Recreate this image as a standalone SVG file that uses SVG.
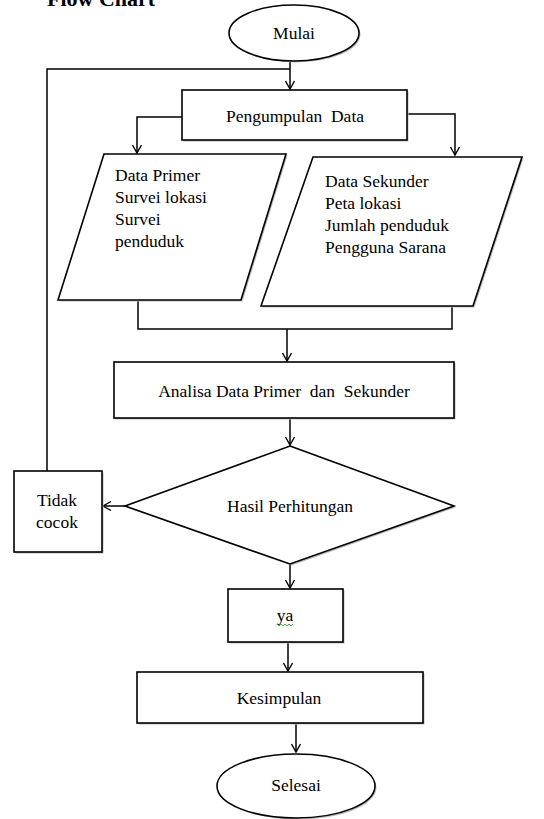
<svg xmlns="http://www.w3.org/2000/svg" width="544" height="819" viewBox="0 0 544 819">
<defs>
<marker id="arr" markerWidth="12" markerHeight="12" refX="10" refY="6" orient="auto" markerUnits="userSpaceOnUse">
<polyline points="2,1.5 10,6 2,10.5" fill="none" stroke="#000" stroke-width="1.4"/>
</marker>
</defs>
<style>
.sh{fill:#bbb;stroke:none;}
.nd{fill:#fff;stroke:#000;stroke-width:1.6;}
.c{text-anchor:middle;}
.ln{fill:none;stroke:#000;stroke-width:1.5;}
</style>
<rect width="544" height="819" fill="#fff"/>
<text x="47" y="6" font-family="Liberation Serif, serif" font-weight="bold" font-size="22" fill="#000">Flow Chart</text>

<g id="connectors">
<line class="ln" x1="290" y1="62" x2="290" y2="89" marker-end="url(#arr)"/>
<polyline class="ln" points="47,471 47,69 290,69"/>
<polyline class="ln" points="182,117 137,117 137,153" marker-end="url(#arr)"/>
<polyline class="ln" points="407,114 455,114 455,155" marker-end="url(#arr)"/>
<polyline class="ln" points="138,300 138,329 452,329 452,306"/>
<line class="ln" x1="287" y1="329" x2="287" y2="361" marker-end="url(#arr)"/>
<line class="ln" x1="290" y1="418" x2="290" y2="445" marker-end="url(#arr)"/>
<line class="ln" x1="126" y1="506" x2="103" y2="506" marker-end="url(#arr)"/>
<line class="ln" x1="290" y1="564" x2="290" y2="588" marker-end="url(#arr)"/>
<line class="ln" x1="288" y1="642" x2="288" y2="671" marker-end="url(#arr)"/>
<line class="ln" x1="296" y1="723" x2="296" y2="752" marker-end="url(#arr)"/>
</g>

<g font-family="Liberation Serif, serif" font-size="17.5" fill="#000">
<g id="mulai">
<ellipse class="sh" cx="295.5" cy="34.5" rx="65" ry="28"/>
<ellipse class="nd" cx="294" cy="33" rx="65" ry="28"/>
<text class="c" x="294" y="39" fill="#000">Mulai</text>
</g>

<g id="pengumpulan">
<rect class="sh" x="183.5" y="91.5" width="225" height="50"/>
<rect class="nd" x="182" y="90" width="225" height="50"/>
<text class="c" x="295" y="122" fill="#000" xml:space="preserve">Pengumpulan  Data</text>
</g>

<g id="data-primer">
<polygon class="sh" points="105.5,155.5 287.5,155.5 242.5,301.5 59.5,301.5"/>
<polygon class="nd" points="104,154 286,154 241,300 58,300"/>
<text x="115" y="181" fill="#000">Data Primer</text>
<text x="115" y="203" fill="#000">Survei lokasi</text>
<text x="115" y="225" fill="#000">Survei</text>
<text x="115" y="247" fill="#000">penduduk</text>
</g>

<g id="data-sekunder">
<polygon class="sh" points="314.5,158.5 523.5,158.5 474.5,307.5 262.5,307.5"/>
<polygon class="nd" points="313,157 522,157 473,306 261,306"/>
<text x="325" y="187" fill="#000">Data Sekunder</text>
<text x="325" y="209" fill="#000">Peta lokasi</text>
<text x="325" y="231" fill="#000">Jumlah penduduk</text>
<text x="325" y="253" fill="#000">Pengguna Sarana</text>
</g>

<g id="analisa">
<rect class="sh" x="115.5" y="363.5" width="340" height="56"/>
<rect class="nd" x="114" y="362" width="340" height="56"/>
<text class="c" x="284" y="397" fill="#000" xml:space="preserve">Analisa Data Primer  dan  Sekunder</text>
</g>

<g id="hasil">
<polygon class="sh" points="291.5,447.5 455.5,507.5 291.5,565.5 126.5,507.5"/>
<polygon class="nd" points="290,446 454,506 290,564 125,506"/>
<text class="c" x="290" y="512" fill="#000">Hasil Perhitungan</text>
</g>

<g id="tidak-cocok">
<rect class="sh" x="15.5" y="472.5" width="88" height="81"/>
<rect class="nd" x="14" y="471" width="88" height="81"/>
<text class="c" x="57" y="506" fill="#000">Tidak</text>
<text class="c" x="57" y="528" fill="#000">cocok</text>
</g>

<g id="ya">
<rect class="sh" x="229.5" y="590.5" width="115" height="53"/>
<rect class="nd" x="228" y="589" width="115" height="53"/>
<text class="c" x="285" y="621" fill="#000">ya</text>
<path d="M277,624 l2,2 l2,-2 l2,2 l2,-2 l2,2 l2,-2 l2,2 l2,-2" fill="none" stroke="#3a3" stroke-width="0.9"/>
</g>

<g id="kesimpulan">
<rect class="sh" x="138.5" y="673.5" width="286" height="51"/>
<rect class="nd" x="137" y="672" width="286" height="51"/>
<text class="c" x="279" y="704" fill="#000">Kesimpulan</text>
</g>

<g id="selesai">
<ellipse class="sh" cx="297.5" cy="787.5" rx="79" ry="32"/>
<ellipse class="nd" cx="296" cy="786" rx="79" ry="32"/>
<text class="c" x="296" y="791" fill="#000">Selesai</text>
</g>
</g>
</svg>
